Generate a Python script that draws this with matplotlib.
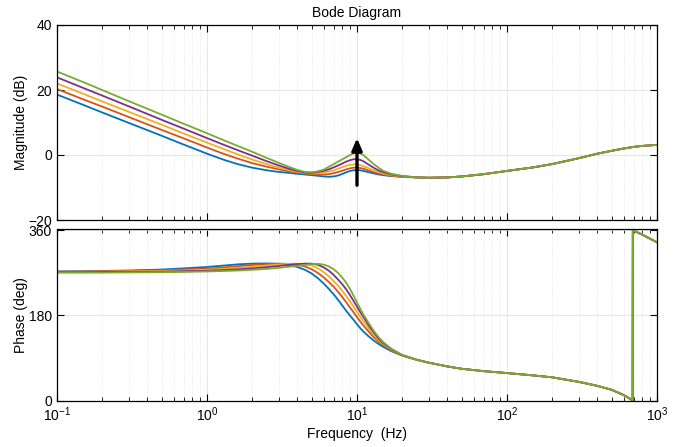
import matplotlib.pyplot as plt
import numpy as np

plt.rcParams['font.family'] = ['Liberation Sans', 'DejaVu Sans']
plt.rcParams['mathtext.fontset'] = 'custom'
plt.rcParams['mathtext.rm'] = 'Liberation Sans'
plt.rcParams['mathtext.it'] = 'Liberation Sans:italic'
plt.rcParams['font.size'] = 10

# frequencies (Hz) where the five curves differ
f_low = [0.1, 0.15, 0.2, 0.3, 0.5, 0.7, 1, 1.3, 1.6, 2, 2.5, 3, 3.5, 4, 4.5, 5,
         5.5, 6, 6.5, 7, 7.5, 8, 8.5, 9, 9.5, 10, 10.5, 11, 12, 13, 14, 15, 17, 20]

# magnitude (dB), one list per curve
mag_blue = [18.6, 15.4, 13.1, 9.9, 5.9, 3.2, 0.4, -1.5, -2.8, -3.9, -4.7, -5.2, -5.5, -5.8, -6.0, -6.2,
            -6.4, -6.6, -6.7, -6.6, -6.3, -5.8, -5.3, -4.9, -4.7, -4.6, -4.7, -4.9, -5.3, -5.7, -6.0, -6.2, -6.5, -6.7]
mag_orange = [20.3, 17.1, 14.9, 11.7, 7.7, 5.1, 2.3, 0.3, -1.1, -2.5, -3.6, -4.4, -5.0, -5.4, -5.7, -5.9,
              -6.0, -6.0, -5.9, -5.6, -5.2, -4.8, -4.4, -4.1, -3.9, -3.9, -4.0, -4.2, -4.8, -5.3, -5.7, -6.0, -6.4, -6.7]
mag_yellow = [22.0, 18.8, 16.5, 13.3, 9.3, 6.6, 3.8, 1.8, 0.2, -1.4, -2.8, -3.9, -4.6, -5.2, -5.5, -5.7,
              -5.6, -5.4, -5.1, -4.7, -4.2, -3.7, -3.3, -3.0, -2.9, -2.9, -3.1, -3.4, -4.1, -4.8, -5.3, -5.7, -6.2, -6.6]
mag_purple = [23.9, 20.6, 18.3, 15.0, 10.8, 8.1, 5.2, 3.1, 1.5, -0.2, -1.9, -3.2, -4.2, -4.9, -5.4, -5.5,
              -5.2, -4.9, -4.4, -3.8, -3.2, -2.6, -2.0, -1.6, -1.3, -1.3, -1.5, -1.9, -3.0, -4.0, -4.8, -5.3, -6.0, -6.5]
mag_green = [25.7, 22.4, 20.0, 16.6, 12.4, 9.6, 6.7, 4.5, 2.8, 1.0, -0.9, -2.4, -3.6, -4.6, -5.2, -5.3,
             -5.0, -4.5, -3.6, -2.8, -2.0, -1.3, -0.6, 0.0, 0.5, 0.7, 0.5, 0.0, -1.5, -2.9, -4.0, -4.9, -5.8, -6.4]

# phase (deg), one list per curve
ph_blue = [272.5, 273, 273.5, 274.5, 276.5, 279, 282, 285, 287.5, 289, 289.5, 288.5, 286, 282, 276, 268,
           258, 247, 235.5, 224, 212, 200, 189, 179, 170, 161, 153, 146, 135, 126, 119, 113, 104, 95]
ph_orange = [272, 272.5, 273, 273.5, 275, 276.5, 278.5, 281, 283.5, 286, 288, 289, 288.5, 287, 283, 277,
             269, 260, 250, 240, 229, 218, 207, 196, 186, 176, 167, 159, 145, 133, 124, 117, 106, 95]
ph_yellow = [271.5, 271.5, 272, 272.5, 273.5, 274.5, 276, 278, 280, 282.5, 285, 287, 288.5, 289, 288, 285,
             279, 271, 262, 252, 242, 231, 220, 209, 198, 187, 177, 168, 152, 138, 127, 119, 107, 95.5]
ph_purple = [271, 271, 271.5, 271.5, 272, 273, 274, 275.5, 277, 279, 281.5, 284, 286.5, 288, 289, 289,
             286.5, 281, 274, 265, 255, 245, 234, 222, 210, 198, 187, 177, 158, 143, 130, 121, 108, 96]
ph_green = [270, 270, 270, 270.5, 271, 271.5, 272.5, 273.5, 274.5, 276, 278, 280, 282.5, 284.5, 286.5, 288,
            288.5, 287, 283, 277, 269, 259, 248, 235, 221, 207, 194, 182, 163, 146, 133, 123, 109, 96.5]

# common high-frequency part (all curves overlap)
f_mag_tail = [25, 30, 40, 50, 70, 100, 150, 200, 300, 400, 500, 600, 700, 800, 1000]
mag_tail = [-6.9, -7.0, -6.9, -6.6, -5.9, -4.9, -3.8, -2.8, -1.0, 0.4, 1.3, 2.0, 2.5, 2.8, 3.1]
f_ph_tail = [25, 30, 40, 50, 70, 100, 150, 200, 300, 400, 500, 600, 688, 690, 700, 800, 1000]
ph_tail = [86, 80, 72, 67, 62, 58, 53, 49, 39.5, 31, 22.5, 11.5, 0.5, 359.5, 358.5, 350, 334]

colors = ['#0072BD', '#D95319', '#EDB120', '#7E2F8E', '#77AC30']
mags = [mag_blue, mag_orange, mag_yellow, mag_purple, mag_green]
phases = [ph_blue, ph_orange, ph_yellow, ph_purple, ph_green]

fig = plt.figure(figsize=(6.81, 4.47), dpi=100)
ax1 = fig.add_axes([57/681, 1 - 220/447, 600/681, 195/447])
ax2 = fig.add_axes([57/681, 1 - 401/447, 600/681, 171.7/447])

for m, p, c in zip(mags, phases, colors):
    ax1.plot(f_low + f_mag_tail, m + mag_tail, color=c, lw=1.3)
    ax2.plot(f_low + f_ph_tail, p + ph_tail, color=c, lw=1.3)

# arrow showing the growing peak
ax1.annotate('', xy=(10, 5.2), xytext=(10, -9.3),
             arrowprops=dict(arrowstyle='-|>,head_length=0.7,head_width=0.3',
                             lw=2.4, color='k', shrinkA=0, shrinkB=0))

for ax in (ax1, ax2):
    ax.set_xscale('log')
    ax.set_xlim(0.1, 1000)
    ax.grid(True, which='major', color='#e2e2e2', lw=0.6)
    ax.grid(True, which='minor', axis='x', color='#e2e2e2', lw=0.6, ls=':')
    ax.tick_params(which='both', direction='in', top=True, right=True, colors='k', labelsize=10)
    ax.tick_params(which='major', length=5, width=0.8)
    ax.tick_params(which='minor', length=3, width=0.6)
    for s in ax.spines.values():
        s.set_linewidth(0.9)
    ax.set_axisbelow(True)

ax1.set_ylim(-20, 40)
ax1.set_yticks([-20, 0, 20, 40])
ax1.tick_params(labelbottom=False)
ax1.set_ylabel('Magnitude (dB)')
ax1.yaxis.set_label_coords(-0.049, 0.5)
ax1.set_title('Bode Diagram', fontsize=10, pad=6)

ax2.set_ylim(-1, 361.5)
ax2.set_yticks([0, 180, 360])
ax2.set_ylabel('Phase (deg)')
ax2.yaxis.set_label_coords(-0.049, 0.5)
ax2.set_xlabel('Frequency  (Hz)', labelpad=2)

fig.savefig('out.png', dpi=100)
